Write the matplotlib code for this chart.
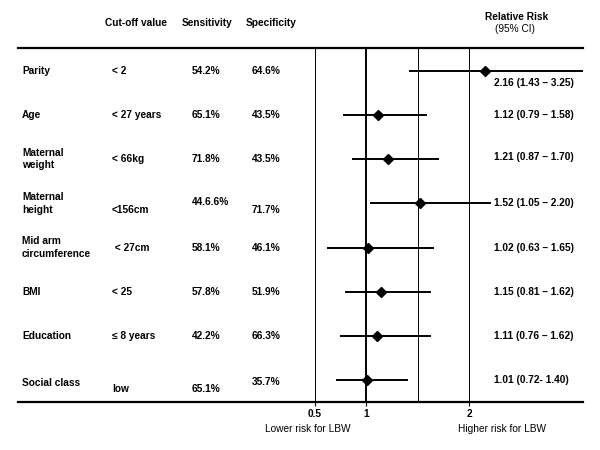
import matplotlib.pyplot as plt
import matplotlib.transforms as mtransforms

# 数据
factors = ['Parity', 'Age', 'Maternal\nweight', 'Maternal\nheight',
           'Mid arm\ncircumference', 'BMI', 'Education', 'Social class']
cutoffs = ['< 2', '< 27 years', '< 66kg', '<156cm', ' < 27cm', '< 25', '≤ 8 years', 'low']
sensitivity = ['54.2%', '65.1%', '71.8%', '44.6.6%', '58.1%', '57.8%', '42.2%', '65.1%']
specificity = ['64.6%', '43.5%', '43.5%', '71.7%', '46.1%', '51.9%', '66.3%', '35.7%']
rr = [2.16, 1.12, 1.21, 1.52, 1.02, 1.15, 1.11, 1.01]
ci_low = [1.43, 0.79, 0.87, 1.05, 0.63, 0.81, 0.76, 0.72]
ci_high = [3.25, 1.58, 1.70, 2.20, 1.65, 1.62, 1.62, 1.40]
rr_text = ['2.16 (1.43 – 3.25)', '1.12 (0.79 – 1.58)', '1.21 (0.87 – 1.70)',
           '1.52 (1.05 – 2.20)', '1.02 (0.63 – 1.65)', '1.15 (0.81 – 1.62)',
           '1.11 (0.76 – 1.62)', '1.01 (0.72- 1.40)']
ticks = [0.5, 1, 2]
ref_lines = [0.5, 1, 1.5, 2]

# 个别单元格的竖直偏移（行单位）
off_label = [0, 0, 0, 0, 0, 0, 0, 0.07]
off_cut = [0, 0, 0, 0.16, 0, 0, 0, 0.2]
off_sens = [0, 0, 0, -0.02, 0, 0, 0, 0.2]
off_spec = [0, 0, 0, 0.16, 0, 0, 0, 0.05]
off_rr = [0.27, 0, -0.05, 0, 0, 0, 0, 0]

plt.rcParams['font.family'] = ['Liberation Sans', 'DejaVu Sans']
FS = 7.3

W, H = 600, 450
fig = plt.figure(figsize=(6, 4.5), dpi=100)

# 森林图坐标轴：覆盖整张表格宽度，上下边框即为横线
left_px, right_px, top_px, bot_px = 18, 583, 48, 402
ax = fig.add_axes([left_px / W, 1 - bot_px / H, (right_px - left_px) / W, (bot_px - top_px) / H])
x_one, unit = 366, 103.0
ax.set_xlim(1 + (left_px - x_one) / unit, 1 + (right_px - x_one) / unit)
ax.set_ylim(7.5, -0.52)

for s in ['left', 'right']:
    ax.spines[s].set_visible(False)
for s in ['top', 'bottom']:
    ax.spines[s].set_linewidth(1.6)

for v in ref_lines:
    lw = 1.4 if v == 1 else 0.7
    ax.axvline(v, color='black', lw=lw, zorder=1)

rows = list(range(len(factors)))
for i in rows:
    ax.plot([ci_low[i], ci_high[i]], [i, i], color='black', lw=1.4, zorder=2)
ax.plot(rr, rows, 'D', color='black', markersize=5, zorder=3)

ax.set_yticks([])
ax.set_xticks(ticks)
ax.set_xticklabels([str(t) for t in ticks], fontsize=FS, fontweight='bold')
ax.tick_params(axis='x', length=3, width=0.8, pad=2)

# 表格文字：x 用图像坐标，y 用行坐标
tr = mtransforms.blended_transform_factory(fig.transFigure, ax.transData)
fx = lambda px: px / W
kw = dict(fontsize=FS, fontweight='bold', va='center', transform=tr)
for i in rows:
    ax.text(fx(22), i + off_label[i], factors[i], ha='left', linespacing=1.3, **kw)
    ax.text(fx(112), i + off_cut[i], cutoffs[i], ha='left', **kw)
    ax.text(fx(192), i + off_sens[i], sensitivity[i], ha='left', **kw)
    ax.text(fx(252), i + off_spec[i], specificity[i], ha='left', **kw)
    ax.text(fx(494), i + off_rr[i], rr_text[i], ha='left', **kw)

# 表头
fig.text(fx(105), 1 - 23 / H, 'Cut-off value', ha='left', va='center', fontsize=FS, fontweight='bold')
fig.text(fx(207), 1 - 23 / H, 'Sensitivity', ha='center', va='center', fontsize=FS, fontweight='bold')
fig.text(fx(271), 1 - 23 / H, 'Specificity', ha='center', va='center', fontsize=FS, fontweight='bold')
fig.text(fx(517), 1 - 17 / H, 'Relative Risk', ha='center', va='center', fontsize=FS, fontweight='bold')
fig.text(fx(515), 1 - 29 / H, '(95% CI)', ha='center', va='center', fontsize=FS)

fig.text(fx(308), 1 - 429 / H, 'Lower risk for LBW', ha='center', va='center', fontsize=FS)
fig.text(fx(502), 1 - 429 / H, 'Higher risk for LBW', ha='center', va='center', fontsize=FS)

plt.savefig('out.png', dpi=100)
